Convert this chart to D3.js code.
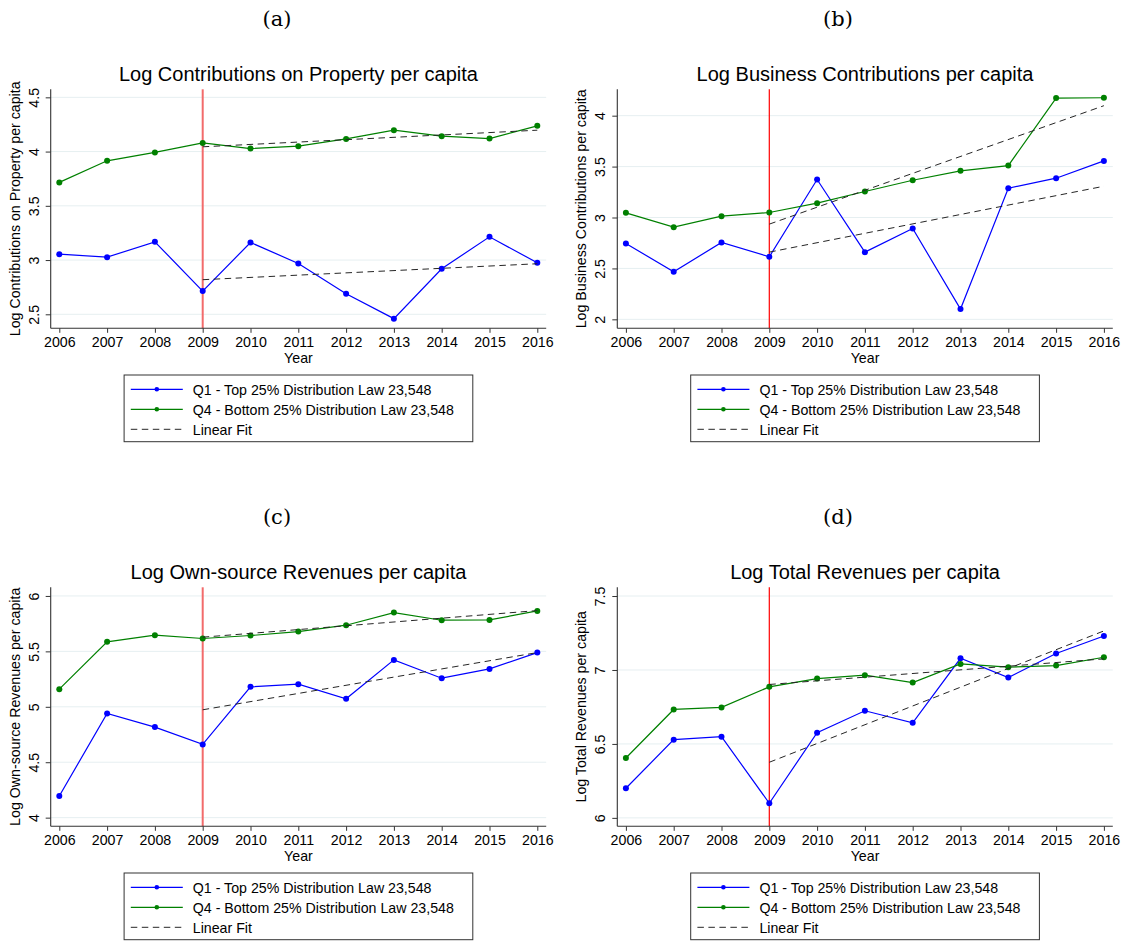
<!DOCTYPE html>
<html>
<head>
<meta charset="utf-8">
<script src="https://cdn.jsdelivr.net/npm/d3@7"></script>
<style>
    body { margin: 0; background: #fff; }
    text { font-family: "Liberation Sans", Arial, sans-serif; fill: #000; }
</style>
</head>
<body>
<div id="chart"></div>
<script>
//Data
var years = [2006, 2007, 2008, 2009, 2010, 2011, 2012, 2013, 2014, 2015, 2016];
var fitYears = [2009, 2016];
var treatYear = 2009;

var propQ1 = [3.054, 3.027, 3.168, 2.714, 3.162, 2.969, 2.690, 2.460, 2.920, 3.214, 2.975];
var propQ4 = [3.716, 3.915, 3.992, 4.080, 4.028, 4.050, 4.117, 4.197, 4.142, 4.120, 4.237];
var propFitQ1 = [2.819, 2.966];
var propFitQ4 = [4.044, 4.197];

var busQ1 = [2.745, 2.467, 2.755, 2.614, 3.373, 2.660, 2.892, 2.101, 3.288, 3.386, 3.556];
var busQ4 = [3.046, 2.905, 3.013, 3.049, 3.141, 3.255, 3.366, 3.458, 3.510, 4.173, 4.176];
var busFitQ1 = [2.660, 3.307];
var busFitQ4 = [2.935, 4.098];

var ownQ1 = [4.195, 4.940, 4.817, 4.661, 5.180, 5.204, 5.072, 5.423, 5.258, 5.342, 5.489];
var ownQ4 = [5.159, 5.586, 5.646, 5.616, 5.643, 5.679, 5.736, 5.850, 5.781, 5.784, 5.865];
var ownFitQ1 = [4.973, 5.489];
var ownFitQ4 = [5.628, 5.868];

var totQ1 = [6.200, 6.529, 6.549, 6.099, 6.576, 6.724, 6.643, 7.079, 6.949, 7.111, 7.230];
var totQ4 = [6.405, 6.733, 6.747, 6.886, 6.942, 6.965, 6.915, 7.041, 7.019, 7.030, 7.086];
var totFitQ1 = [6.376, 7.264];
var totFitQ4 = [6.902, 7.075];

var panelTags = ["(a)", "(b)", "(c)", "(d)"];
var titles = [
    "Log Contributions on Property per capita",
    "Log Business Contributions per capita",
    "Log Own-source Revenues per capita",
    "Log Total Revenues per capita"
];
var yTitles = titles;
var yTicks = [
    [2.5, 3, 3.5, 4, 4.5],
    [2, 2.5, 3, 3.5, 4],
    [4, 4.5, 5, 5.5, 6],
    [6, 6.5, 7, 7.5]
];
var yDomains = [[2.371, 4.574], [1.912, 4.259], [3.922, 6.078], [5.943, 7.559]];
var legendLabels = ["Q1 - Top 25% Distribution Law 23,548", "Q4 - Bottom 25% Distribution Law 23,548", "Linear Fit"];

var q1Sets = [propQ1, busQ1, ownQ1, totQ1];
var q4Sets = [propQ4, busQ4, ownQ4, totQ4];
var fitQ1Sets = [propFitQ1, busFitQ1, ownFitQ1, totFitQ1];
var fitQ4Sets = [propFitQ4, busFitQ4, ownFitQ4, totFitQ4];

var W = 1127, H = 943;
var pw = 495.5, ph = 239;                                           //plot region size
var origins = [[50.7, 89.3], [617.3, 89.3], [50.7, 587.3], [617.3, 587.3]];
var tagPos = [[277, 26], [838, 26], [277, 524], [838, 524]];
var xlineStyle = [["#f26b6b", 2], ["#ff0000", 1.2], ["#f26b6b", 2], ["#ff0000", 1.2]];

var blue = "#0000ff", green = "#008000", fitColor = "#262626";

var svg = d3.select("#chart")
            .append("svg")
            .attr("width", W)
            .attr("height", H);

for (var p = 0; p < 4; p++) {
    drawPanel(p);
}

function drawPanel(p) {
    var x0 = origins[p][0], y0 = origins[p][1];

    var xScale = d3.scaleLinear()
                    .domain([2006, 2016])
                    .range([8.6, 486.6]);

    var yScale = d3.scaleLinear()
                    .domain(yDomains[p])
                    .range([ph, 0]);

    svg.append("text")
        .attr("x", tagPos[p][0])
        .attr("y", tagPos[p][1])
        .attr("text-anchor", "middle")
        .style("font-family", "'DejaVu Serif', serif")
        .style("font-size", "21px")
        .text(panelTags[p]);

    var g = svg.append("g")
                .attr("transform", "translate(" + x0 + "," + y0 + ")");

    //Gridlines
    g.selectAll("line.grid")
        .data(yTicks[p])
        .enter()
        .append("line")
        .attr("class", "grid")
        .attr("x1", 0)
        .attr("x2", pw)
        .attr("y1", function(d) { return yScale(d); })
        .attr("y2", function(d) { return yScale(d); })
        .attr("stroke", "#e6eff1")
        .attr("stroke-width", 1);

    //2009 reform line
    g.append("line")
        .attr("x1", xScale(treatYear))
        .attr("x2", xScale(treatYear))
        .attr("y1", 0)
        .attr("y2", ph)
        .attr("stroke", xlineStyle[p][0])
        .attr("stroke-width", xlineStyle[p][1]);

    //Axes
    var xAxis = d3.axisBottom(xScale)
                    .tickValues(years)
                    .tickFormat(d3.format("d"))
                    .tickSizeOuter(0)
                    .tickSizeInner(4.5);

    var xg = g.append("g")
                .attr("transform", "translate(0," + ph + ")")
                .call(xAxis);
    xg.select(".domain").remove();
    xg.selectAll(".tick line").attr("stroke", "#333");
    xg.selectAll(".tick text")
        .attr("y", 19)
        .attr("dy", 0)
        .style("font-size", "14.2px")
        .style("font-family", "'Liberation Sans', Arial, sans-serif")
        .attr("fill", "#000");

    var yAxis = d3.axisLeft(yScale)
                    .tickValues(yTicks[p])
                    .tickFormat(function(d) { return String(d); })
                    .tickSizeOuter(0)
                    .tickSizeInner(5);

    var yg = g.append("g").call(yAxis);
    yg.select(".domain").remove();
    yg.selectAll(".tick line").attr("stroke", "#333");
    yg.selectAll(".tick text")
        .attr("transform", "rotate(-90)")
        .attr("x", 0)
        .attr("y", -12)
        .attr("dy", 0)
        .attr("text-anchor", "middle")
        .style("font-size", "14.2px")
        .style("font-family", "'Liberation Sans', Arial, sans-serif")
        .attr("fill", "#000");

    g.append("line")
        .attr("x1", 0).attr("x2", 0)
        .attr("y1", 0).attr("y2", ph)
        .attr("stroke", "#333")
        .attr("stroke-width", 1.1);
    g.append("line")
        .attr("x1", 0).attr("x2", pw)
        .attr("y1", ph).attr("y2", ph)
        .attr("stroke", "#333")
        .attr("stroke-width", 1.1);

    //Series
    var line = d3.line()
                .x(function(d) { return xScale(d[0]); })
                .y(function(d) { return yScale(d[1]); });

    var series = [[q1Sets[p], blue], [q4Sets[p], green]];
    series.forEach(function(s) {
        var pts = years.map(function(yr, i) { return [yr, s[0][i]]; });
        g.append("path")
            .attr("d", line(pts))
            .attr("fill", "none")
            .attr("stroke", s[1])
            .attr("stroke-width", 1.2);
        g.selectAll(null)
            .data(pts)
            .enter()
            .append("circle")
            .attr("cx", function(d) { return xScale(d[0]); })
            .attr("cy", function(d) { return yScale(d[1]); })
            .attr("r", 3)
            .attr("fill", s[1]);
    });

    //Linear fits
    [fitQ1Sets[p], fitQ4Sets[p]].forEach(function(f) {
        var pts = fitYears.map(function(yr, i) { return [yr, f[i]]; });
        g.append("path")
            .attr("d", line(pts))
            .attr("fill", "none")
            .attr("stroke", fitColor)
            .attr("stroke-width", 1)
            .attr("stroke-dasharray", "6.5,4.5");
    });

    //Titles
    g.append("text")
        .attr("x", pw / 2)
        .attr("y", -8.6)
        .attr("text-anchor", "middle")
        .style("font-size", "20px")
        .text(titles[p]);

    g.append("text")
        .attr("x", pw / 2)
        .attr("y", ph + 34.7)
        .attr("text-anchor", "middle")
        .style("font-size", "14.2px")
        .text("Year");

    g.append("text")
        .attr("transform", "translate(-31," + (ph / 2) + ") rotate(-90)")
        .attr("text-anchor", "middle")
        .style("font-size", "14.2px")
        .text(yTitles[p]);

    //Legend
    var bw = 348.7, bx = pw / 2 - bw / 2, by = ph + 46.7;
    var lg = g.append("g").attr("transform", "translate(" + bx + "," + by + ")");
    lg.append("rect")
        .attr("width", bw)
        .attr("height", 66.7)
        .attr("fill", "#fff")
        .attr("stroke", "#333")
        .attr("stroke-width", 1);

    var keyColors = [blue, green, fitColor];
    legendLabels.forEach(function(lbl, i) {
        var cy = 14.3 + i * 20;
        var k = lg.append("line")
                    .attr("x1", 6.7).attr("x2", 58.7)
                    .attr("y1", cy).attr("y2", cy)
                    .attr("stroke", keyColors[i])
                    .attr("stroke-width", i < 2 ? 1.2 : 1);
        if (i < 2) {
            lg.append("circle")
                .attr("cx", 32.7)
                .attr("cy", cy)
                .attr("r", 2.3)
                .attr("fill", keyColors[i]);
        } else {
            k.attr("stroke-dasharray", "6.5,4.5");
        }
        lg.append("text")
            .attr("x", 68.7)
            .attr("y", cy + 5.3)
            .style("font-size", "14.2px")
            .text(lbl);
    });
}
</script>
</body>
</html>
